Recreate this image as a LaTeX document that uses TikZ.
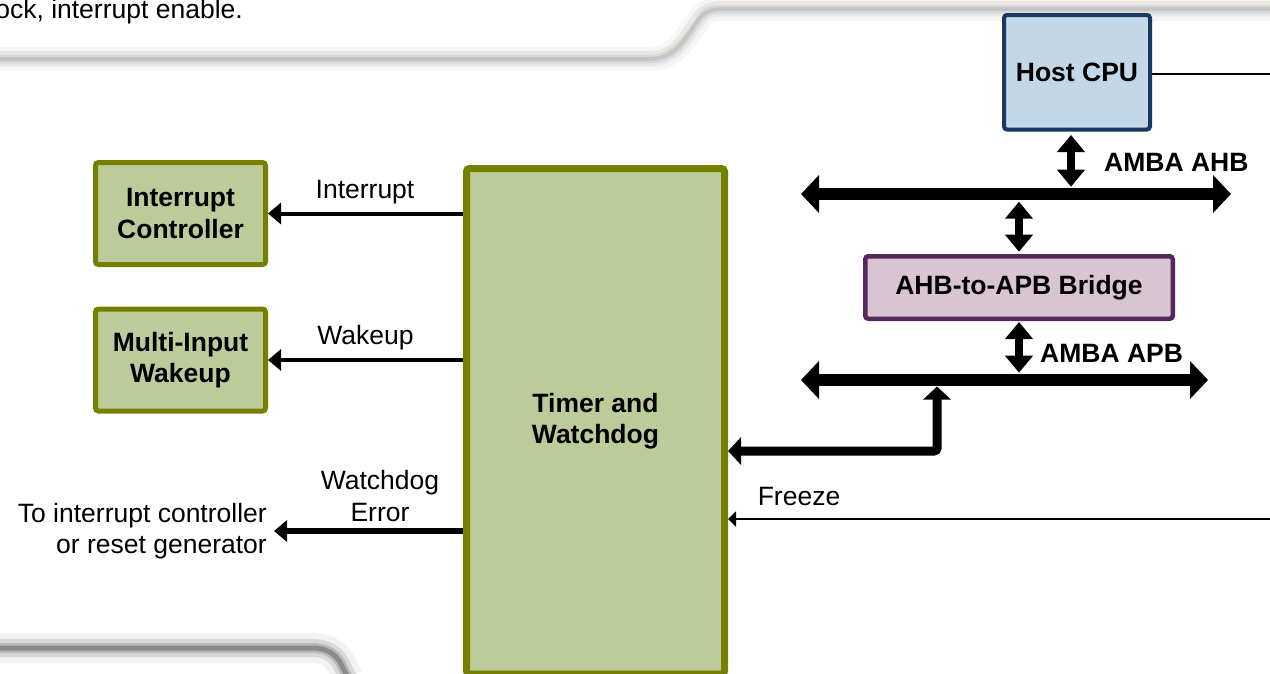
\documentclass[tikz,border=0pt]{standalone}
\usepackage{fontspec}
\setmainfont{Liberation Sans}
\usetikzlibrary{arrows.meta,positioning}
\definecolor{tgreen}{RGB}{118,128,0}
\definecolor{tgreenfill}{RGB}{187,204,154}
\definecolor{cpublue}{RGB}{24,56,96}
\definecolor{cpufill}{RGB}{194,216,232}
\definecolor{brpurple}{RGB}{84,40,92}
\definecolor{brfill}{RGB}{217,196,210}
\definecolor{edgecream}{RGB}{238,230,218}
\newcommand{\diafont}{\fontsize{26.5}{31.5}\selectfont}
\tikzset{
  blk/.style={
    draw, rounded corners=3pt, inner sep=0pt, align=center,
    font=\diafont\bfseries
  },
  grnblk/.style={blk, draw=tgreen, fill=tgreenfill, line width=5pt,
    minimum width=170pt, minimum height=102pt},
  sig/.style={line width=4pt, -{Triangle[length=13pt,width=21pt]}},
  bus/.style={line width=12pt,
    {Triangle[length=18pt,width=37pt]}-{Triangle[length=18pt,width=37pt]}},
  link/.style={line width=8pt,
    {Triangle[length=17pt,width=27pt]}-{Triangle[length=17pt,width=27pt]}},
  tbus/.style={line width=9pt,
    {Triangle[length=13pt,width=27pt]}-{Triangle[length=13pt,width=27pt]}},
  lbl/.style={font=\diafont, inner sep=0pt, align=center},
  buslbl/.style={font=\diafont\bfseries, inner sep=0pt}
}

\begin{document}
\begin{tikzpicture}[x=1pt, y=-1pt]
  \useasboundingbox (0,0) rectangle (1270,673);
  \clip (0,0) rectangle (1270,673);

  % page panels with their shadows
  \foreach \w/\o in {24/0.035, 15/0.05, 9/0.07, 4/0.09}
    \draw[line width=\w pt, black, opacity=\o, yshift=-7pt]
      (-5,52) -- (648,52) .. controls (668,52) and (677,43) .. (687,29)
      -- (699,12) .. controls (705,4) and (712,2) .. (724,2) -- (1275,2);
  \draw[line width=2pt, edgecream]
    (-5,52) -- (648,52) .. controls (668,52) and (677,43) .. (687,29)
    -- (699,12) .. controls (705,4) and (712,2) .. (724,2) -- (1275,2);
  \foreach \w/\o in {30/0.05, 18/0.1, 10/0.15, 5/0.25}
    \draw[line width=\w pt, black, opacity=\o]
      (-5,648) -- (312,648) .. controls (326,648) and (334,653) .. (340,662)
      -- (348,678);

  \node[lbl, anchor=east] (topnote) at (243,12) {ock, interrupt enable.};

  % blocks
  \node[grnblk] (intc) at (180.5,213.5) {Interrupt\\Controller};
  \node[grnblk] (wake) at (180.5,360) {Multi-Input\\Wakeup};
  \node[blk, draw=tgreen, fill=tgreenfill, line width=7pt,
    minimum width=258pt, minimum height=505.5pt] (tmr) at (595.5,421.25)
    {Timer and\\Watchdog};
  \node[blk, draw=cpublue, fill=cpufill, line width=4pt,
    minimum width=146pt, minimum height=114.5pt] (cpu) at (1077,72.25) {Host CPU};
  \node[blk, draw=brpurple, fill=brfill, line width=4.5pt,
    minimum width=307.5pt, minimum height=62.5pt] (brg) at (1019,287.5)
    {AHB-to-APB Bridge};

  % bus ends and free signal ends
  \coordinate (ahbL) at (801,194);
  \coordinate (ahbR) at (1231,194);
  \coordinate (apbL) at (801,380);
  \coordinate (apbR) at (1208,380);
  \coordinate (ahbtap) at (1071,194);
  \coordinate (apbtap) at (937,380);
  \coordinate (tcorner) at (937,451);
  \coordinate (wdout) at (274,531);
  \coordinate (frzin) at (1270,519);
  \coordinate (cpuout) at (1270,74);

  \draw[bus] (ahbL) -- (ahbR);
  \draw[bus] (apbL) -- (apbR);
  \draw[link, shorten <=3.5pt, shorten >=7.3pt] (cpu.south -| ahbtap) -- (ahbtap);
  \draw[link, shorten <=7.7pt, shorten >=2.3pt] (brg.north |- ahbL) -- (brg.north);
  \draw[link, shorten <=1pt, shorten >=7.3pt] (brg.south) -- (brg.south |- apbL);
  \draw[tbus, rounded corners=3pt, shorten <=6.5pt]
    (apbtap) -- (tcorner) -- (tmr.east |- tcorner);

  \draw[sig] (tmr.west |- intc.east) -- (intc.east);
  \draw[sig] (tmr.west |- wake.east) -- (wake.east);
  \draw[sig, line width=5.5pt] (tmr.west |- wdout) -- (wdout);
  \draw[line width=2.5pt, -{Triangle[length=8pt,width=15pt]}] (frzin) -- (tmr.east |- frzin);
  \draw[line width=2.5pt] (cpu.east |- cpuout) -- (cpuout);

  % labels
  \node[lbl] (intlbl) at (365,192) {Interrupt};
  \node[lbl] (wakelbl) at (365.5,338) {Wakeup};
  \node[lbl] (wdlbl) at (380,496) {Watchdog\\Error};
  \node[lbl, align=right, anchor=east] (wddest) at (267,531)
    {To interrupt controller\\or reset generator};
  \node[lbl] (frzlbl) at (799,497) {Freeze};
  \node[buslbl, anchor=west] (ahblbl) at (1104,162) {AMBA AHB};
  \node[buslbl, anchor=west] (apblbl) at (1040,353) {AMBA APB};
\end{tikzpicture}
\end{document}
